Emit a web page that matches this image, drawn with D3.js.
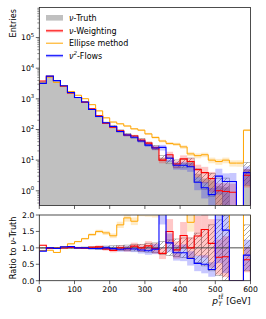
<!DOCTYPE html>
<html>
<head>
<meta charset="utf-8">
<script src="https://cdn.jsdelivr.net/npm/d3@7/dist/d3.min.js"></script>
<style>
  body { margin: 0; background: #fff; }
  svg { display: block; font-family: "DejaVu Sans", sans-serif; }
</style>
</head>
<body>
<svg id="chart" width="266" height="319"></svg>
<script>
// bin edges of p_T (GeV), 20 GeV wide
const binEdges = [0, 20, 40, 60, 80, 100, 120, 140, 160, 180, 200, 220, 240, 260, 280, 300,
  320, 340, 360, 380, 400, 420, 440, 460, 480, 500, 520, 540, 560, 580, 600];

// entries per bin
const truthVals = [3550, 5500, 4000, 2600, 1550, 1100, 790, 460, 270, 165, 128, 90, 68, 58, 45,
  34, 26, 12, 10, 8, 8, 9, 3.6, 2.5, 2.2, 1.4, 1.3, 0, 0, 5];
const weightingVals = [3830, 5390, 3960, 2600, 1565, 1100, 782, 469, 278, 160, 118, 90, 66, 61, 45,
  36, 25.5, 10, 15, 7.5, 11, 9, 4.9, 3.9, 2.5, 1.0, 0.95, 0.9, 0, 3.2];
const ellipseVals = [3270, 5100, 3440, 2680, 1740, 1310, 1010, 645, 405, 240, 175, 153, 130, 105, 95,
  72, 55, 42, 35, 33, 27, 16, 14, 15, 10, 9, 10, 8, 8, 95];
const flowsVals = [3200, 5500, 3920, 2680, 1610, 1100, 790, 450, 265, 165, 125, 86, 66, 56, 42,
  31, 25, 26, 11.5, 6.8, 6.8, 6.1, 1.9, 1.25, 0.75, 3.0, 2.0, 2.0, 0, 3.9];

// relative statistical uncertainties per bin
const truthRelErr = [0.012, 0.01, 0.011, 0.014, 0.018, 0.021, 0.025, 0.033, 0.043, 0.055, 0.063, 0.075,
  0.085, 0.095, 0.11, 0.13, 0.15, 0.2, 0.24, 0.27, 0.3, 0.3, 0.45, 0.55, 0.7, 0.85, 1.0, 0, 0, 0.7];
const recoRelErr = [0.012, 0.01, 0.011, 0.014, 0.018, 0.021, 0.026, 0.034, 0.045, 0.057, 0.065, 0.078,
  0.09, 0.1, 0.115, 0.135, 0.16, 0.21, 0.25, 0.28, 0.3, 0.32, 0.45, 0.55, 0.65, 0.75, 0.85, 0.9, 0, 0.6];
const ellipseRelErr = [0.012, 0.01, 0.011, 0.013, 0.016, 0.018, 0.021, 0.027, 0.034, 0.044, 0.052, 0.056,
  0.06, 0.065, 0.07, 0.08, 0.09, 0.1, 0.11, 0.12, 0.13, 0.16, 0.18, 0.17, 0.21, 0.22, 0.21, 0.23, 0.24, 0.07];

const xTicks = [0, 100, 200, 300, 400, 500, 600];
const logTickExps = [0, 1, 2, 3, 4, 5];
const ratioTicks = [0, 0.5, 1.0, 1.5, 2.0];

const svg = d3.select("#chart");
const mainBox = { l: 39.3, r: 250.5, t: 7.5, b: 205.5 };
const ratioBox = { l: 39.3, r: 250.5, t: 215, b: 280.7 };
const tickFont = 7.7;

const x = d3.scaleLinear().domain([0, 600]).range([mainBox.l, mainBox.r]);
const yMain = d3.scaleLog().domain([Math.pow(10, -0.48), Math.pow(10, 5.98)]).range([mainBox.b, mainBox.t]);
const yRatio = d3.scaleLinear().domain([0, 2]).range([ratioBox.b, ratioBox.t]);

const series = [
  { name: "weighting", vals: weightingVals, err: recoRelErr, color: "#ff0000", band: "rgba(255,0,0,0.22)", lw: 1.1 },
  { name: "ellipse", vals: ellipseVals, err: ellipseRelErr, color: "#ffa500", band: "rgba(255,165,0,0.22)", lw: 1.0 },
  { name: "flows", vals: flowsVals, err: recoRelErr, color: "#0000ff", band: "rgba(0,0,255,0.22)", lw: 1.1 }
];

const defs = svg.append("defs");
defs.append("clipPath").attr("id", "clipMain").append("rect")
  .attr("x", mainBox.l).attr("y", mainBox.t)
  .attr("width", mainBox.r - mainBox.l).attr("height", mainBox.b - mainBox.t);
defs.append("clipPath").attr("id", "clipRatio").append("rect")
  .attr("x", ratioBox.l).attr("y", ratioBox.t)
  .attr("width", ratioBox.r - ratioBox.l).attr("height", ratioBox.b - ratioBox.t);
const pat = defs.append("pattern").attr("id", "hatch")
  .attr("patternUnits", "userSpaceOnUse").attr("width", 5).attr("height", 5);
pat.append("path").attr("d", "M-1,1 l2,-2 M0,5 l5,-5 M4,6 l2,-2")
  .attr("stroke", "#6e6e6e").attr("stroke-width", 0.6);

// step outline of a histogram
function stepPath(vals, yScale, floorVal) {
  let d = "M" + x(binEdges[0]) + "," + yScale(floorVal);
  vals.forEach((v, i) => {
    const yy = yScale(v > floorVal ? v : floorVal);
    d += "V" + yy + "H" + x(binEdges[i + 1]);
  });
  d += "V" + yScale(floorVal);
  return d;
}

// ---------------- main panel ----------------
const gMain = svg.append("g").attr("clip-path", "url(#clipMain)");
const tiny = 1e-3;

gMain.append("path")
  .attr("d", stepPath(truthVals, yMain, yMain.domain()[0]) + "Z")
  .attr("fill", "#c0c0c0");

gMain.append("g").selectAll("rect")
  .data(truthVals.map((v, i) => ({ v, i })).filter(d => d.v > 0))
  .join("rect")
  .attr("x", d => x(binEdges[d.i]))
  .attr("width", d => x(binEdges[d.i + 1]) - x(binEdges[d.i]))
  .attr("y", d => yMain(d.v * (1 + truthRelErr[d.i])))
  .attr("height", d => yMain(Math.max(d.v * (1 - truthRelErr[d.i]), tiny)) - yMain(d.v * (1 + truthRelErr[d.i])))
  .attr("fill", "url(#hatch)")
  .attr("stroke", "#808080")
  .attr("stroke-width", 0.5);

series.forEach(s => {
  gMain.append("g").selectAll("rect")
    .data(s.vals.map((v, i) => ({ v, i })).filter(d => d.v > 0))
    .join("rect")
    .attr("x", d => x(binEdges[d.i]))
    .attr("width", d => x(binEdges[d.i + 1]) - x(binEdges[d.i]))
    .attr("y", d => yMain(d.v * (1 + s.err[d.i])))
    .attr("height", d => yMain(Math.max(d.v * (1 - s.err[d.i]), tiny)) - yMain(d.v * (1 + s.err[d.i])))
    .attr("fill", s.band);
});
series.forEach(s => {
  gMain.append("path")
    .attr("d", stepPath(s.vals, yMain, tiny))
    .attr("fill", "none")
    .attr("stroke", s.color)
    .attr("stroke-width", s.lw);
});

// ---------------- ratio panel ----------------
const gRatio = svg.append("g").attr("clip-path", "url(#clipRatio)");

gRatio.append("g").selectAll("rect")
  .data(truthVals.map((v, i) => ({ v, i })).filter(d => d.v > 0))
  .join("rect")
  .attr("x", d => x(binEdges[d.i]))
  .attr("width", d => x(binEdges[d.i + 1]) - x(binEdges[d.i]))
  .attr("y", d => yRatio(1 + truthRelErr[d.i]))
  .attr("height", d => yRatio(1 - truthRelErr[d.i]) - yRatio(1 + truthRelErr[d.i]))
  .attr("fill", "url(#hatch)")
  .attr("stroke", "#808080")
  .attr("stroke-width", 0.5);

series.forEach(s => {
  const ratio = s.vals.map((v, i) => truthVals[i] > 0 ? v / truthVals[i] : 0);
  s.ratio = ratio;
  gRatio.append("g").selectAll("rect")
    .data(ratio.map((r, i) => ({ r, i })).filter(d => d.r > 0))
    .join("rect")
    .attr("x", d => x(binEdges[d.i]))
    .attr("width", d => x(binEdges[d.i + 1]) - x(binEdges[d.i]))
    .attr("y", d => yRatio(d.r * (1 + s.err[d.i])))
    .attr("height", d => yRatio(d.r * (1 - s.err[d.i])) - yRatio(d.r * (1 + s.err[d.i])))
    .attr("fill", s.band);
});

gRatio.append("line")
  .attr("x1", ratioBox.l).attr("x2", ratioBox.r)
  .attr("y1", yRatio(1)).attr("y2", yRatio(1))
  .attr("stroke", "#3a3a3a").attr("stroke-width", 0.9);

series.forEach(s => {
  gRatio.append("path")
    .attr("d", stepPath(s.ratio, yRatio, -0.1))
    .attr("fill", "none")
    .attr("stroke", s.color)
    .attr("stroke-width", s.lw);
});

// ---------------- axes ----------------
const axisColor = "#222";
function frame(box) {
  svg.append("rect")
    .attr("x", box.l).attr("y", box.t)
    .attr("width", box.r - box.l).attr("height", box.b - box.t)
    .attr("fill", "none").attr("stroke", axisColor).attr("stroke-width", 0.8);
}
frame(mainBox);
frame(ratioBox);

const gTicks = svg.append("g").attr("stroke", axisColor).attr("stroke-width", 0.7);
[mainBox, ratioBox].forEach(box => {
  xTicks.forEach(t => {
    gTicks.append("line").attr("x1", x(t)).attr("x2", x(t))
      .attr("y1", box.b).attr("y2", box.b + 3.5);
  });
});
xTicks.forEach(t => {
  svg.append("text").attr("x", x(t)).attr("y", ratioBox.b + 11.3)
    .attr("text-anchor", "middle").attr("font-size", tickFont).attr("fill", "#000").text(t);
});

// log y ticks, major and minor
logTickExps.forEach(e => {
  const yy = yMain(Math.pow(10, e));
  gTicks.append("line").attr("x1", mainBox.l - 3.5).attr("x2", mainBox.l).attr("y1", yy).attr("y2", yy);
  const t = svg.append("text").attr("x", mainBox.l - 5).attr("y", yy + 2.8)
    .attr("text-anchor", "end").attr("font-size", tickFont).attr("fill", "#000");
  t.append("tspan").text("10");
  t.append("tspan").attr("dy", -3.4).attr("font-size", 5.4).text(e);
});
[-1, 0, 1, 2, 3, 4, 5].forEach(e => {
  [2, 3, 4, 5, 6, 7, 8, 9].forEach(m => {
    const v = m * Math.pow(10, e);
    if (v < yMain.domain()[0] || v > yMain.domain()[1]) return;
    const yy = yMain(v);
    gTicks.append("line").attr("x1", mainBox.l - 2).attr("x2", mainBox.l).attr("y1", yy).attr("y2", yy)
      .attr("stroke-width", 0.5);
  });
});

ratioTicks.forEach(t => {
  const yy = yRatio(t);
  gTicks.append("line").attr("x1", ratioBox.l - 3.5).attr("x2", ratioBox.l).attr("y1", yy).attr("y2", yy);
  svg.append("text").attr("x", ratioBox.l - 5).attr("y", yy + 2.8)
    .attr("text-anchor", "end").attr("font-size", tickFont).attr("fill", "#000").text(t.toFixed(1));
});

// axis labels
svg.append("text")
  .attr("transform", "translate(15.8," + (mainBox.t + 1.5) + ") rotate(-90)")
  .attr("text-anchor", "end").attr("font-size", 8.2).attr("fill", "#000")
  .text("Entries");

const rl = svg.append("text")
  .attr("transform", "translate(15.8," + ((ratioBox.t + ratioBox.b) / 2) + ") rotate(-90)")
  .attr("text-anchor", "middle").attr("font-size", 8.2).attr("fill", "#000");
rl.append("tspan").text("Ratio to ");
rl.append("tspan").attr("font-style", "italic").text("\u03bd");
rl.append("tspan").text("-Truth");

// x label: p_T^{t tbar} [GeV], right aligned
const gx = svg.append("g");
const pText = gx.append("text").attr("font-size", 9).attr("font-style", "italic").text("p");
const pW = pText.node().getComputedTextLength();
const supText = gx.append("text").attr("x", pW + 0.3).attr("y", -4.5).attr("font-size", 6)
  .attr("font-style", "italic").text("tt");
const subText = gx.append("text").attr("x", pW + 0.3).attr("y", 2.2).attr("font-size", 6)
  .attr("font-style", "italic").text("T");
const supW = supText.node().getComputedTextLength();
const tW = supW / 2;
gx.append("line").attr("x1", pW + 0.3 + tW + 0.7).attr("x2", pW + 0.3 + supW + 0.3)
  .attr("y1", -9.4).attr("y2", -9.4).attr("stroke", "#000").attr("stroke-width", 0.5);
const restX = pW + 0.3 + Math.max(supW, subText.node().getComputedTextLength()) + 0.5;
const rest = gx.append("text").attr("x", restX).attr("font-size", 8.5).text("\u00a0[GeV]");
const totalW = restX + rest.node().getComputedTextLength();
gx.attr("transform", "translate(" + (ratioBox.r - totalW) + ",303.5)");

// ---------------- legend ----------------
const gLeg = svg.append("g").attr("font-size", 8).attr("fill", "#000");
const legX0 = 46, legX1 = 63, legText = 69;
const legRows = [
  { label: ["", "\u03bd", "", "-Truth"], kind: "patch", y: 17.8 },
  { label: ["", "\u03bd", "", "-Weighting"], kind: "line", color: "#ff0000", band: "rgba(255,0,0,0.22)", y: 30.8 },
  { label: ["Ellipse method", "", "", ""], kind: "line", color: "#ffa500", band: null, y: 43.2 },
  { label: ["", "\u03bd", "2", "-Flows"], kind: "line", color: "#0000ff", band: "rgba(0,0,255,0.22)", y: 55.7 }
];
legRows.forEach(r => {
  if (r.kind === "patch") {
    gLeg.append("rect").attr("x", legX0).attr("y", r.y - 2.8).attr("width", legX1 - legX0).attr("height", 5.6)
      .attr("fill", "#c0c0c0");
  } else {
    if (r.band) {
      gLeg.append("rect").attr("x", legX0).attr("y", r.y - 1.6).attr("width", legX1 - legX0).attr("height", 3.2)
        .attr("fill", r.band);
    }
    gLeg.append("line").attr("x1", legX0).attr("x2", legX1).attr("y1", r.y).attr("y2", r.y)
      .attr("stroke", r.color).attr("stroke-width", 1);
  }
  const t = gLeg.append("text").attr("x", legText).attr("y", r.y + 2.9);
  if (r.label[0]) t.append("tspan").text(r.label[0]);
  if (r.label[1]) t.append("tspan").attr("font-style", "italic").text(r.label[1]);
  if (r.label[2]) t.append("tspan").attr("dy", -3.2).attr("font-size", 5.5).attr("font-style", "italic").text(r.label[2]);
  if (r.label[3]) t.append("tspan").attr("dy", r.label[2] ? 3.2 : 0).text(r.label[3]);
});
</script>
</body>
</html>
